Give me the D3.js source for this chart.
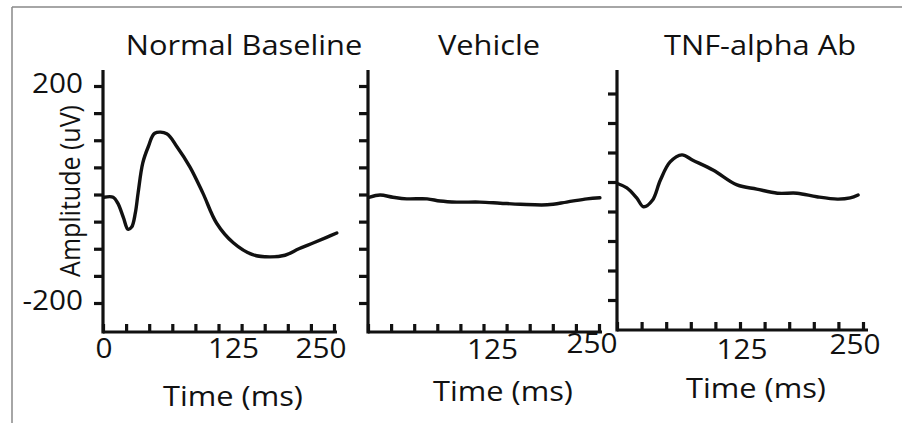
<!DOCTYPE html>
<html>
<head>
<meta charset="utf-8">
<script src="https://d3js.org/d3.v7.min.js"></script>
<style>
  body { margin: 0; background: #fff; }
  svg text { font-family: "Open Sans", "Noto Sans", sans-serif; fill: #111; }
  .axis path, .axis line { stroke: #111; stroke-width: 3.2px; }
  .trace { fill: none; stroke: #111; stroke-width: 3.4px; stroke-linejoin: round; stroke-linecap: round; }
</style>
</head>
<body>
<svg width="902" height="423"></svg>
<script>
// panel titles
var titles = ["Normal Baseline", "Vehicle", "TNF-alpha Ab"];

// traces: time in ms, amplitude in uV
var baseTime = [1, 11, 16, 22, 27, 31, 35, 38, 43, 49, 56, 69, 80, 94, 108, 123, 141, 162, 180, 197, 212, 228, 242, 253];
var baseAmp  = [-5, -5, -16, -42, -64, -60, -34, 3, 58, 88, 113, 112, 88, 51, 3, -53, -89, -111, -115, -112, -100, -89, -79, -71];

var vehTime = [2, 13, 27, 42, 64, 78, 96, 121, 143, 165, 194, 215, 237, 251];
var vehAmp  = [-5, -1, -5, -8, -8, -12, -14, -14, -16, -18, -19, -14, -8, -6];

var tnfTime = [1, 10, 20, 27, 36, 44, 54, 66, 77, 98, 122, 142, 163, 183, 203, 224, 237, 245];
var tnfAmp  = [-3, -10, -27, -42, -31, 3, 34, 46, 37, 20, -5, -12, -19, -19, -25, -29, -27, -22];

var xTicks = [0, 25, 50, 75, 100, 125, 150, 175, 200, 225, 250];
var yTicksFull = [200, 150, 100, 50, 0, -50, -100, -150, -200];
var yTicksShort = [150, 100, 50, 0, -50, -100, -150, -200];
var xLabels = [[0, 125, 250], [125, 250], [125, 250]];
var yLabels = [200, -200];

var svg = d3.select("svg");
var sx = 1.1; // the original figure is stretched sideways

function txt(g, x, y, s, size, anchor, rot) {
    return g.append("text")
        .attr("transform", "translate(" + x + "," + y + ") scale(" + sx + ",1)" + (rot ? " rotate(" + rot + ")" : ""))
        .attr("text-anchor", anchor || "middle")
        .style("font-size", size + "px")
        .text(s);
}

// frame
svg.append("line").attr("x1", 12).attr("y1", 7).attr("x2", 902).attr("y2", 7).attr("stroke", "#888").attr("stroke-width", 1.5);
svg.append("line").attr("x1", 12).attr("y1", 7).attr("x2", 12).attr("y2", 423).attr("stroke", "#888").attr("stroke-width", 1.5);

var panels = [
    { t: baseTime, a: baseAmp, x0: 103, x1: 334, xEnd: 337, axisY: 332, top: 70, yDom: [-200, 200], yRng: [303, 86], yt: yTicksFull,
      titleX: 244, lblDx: [1, 15, -13], lblY: [358, 358, 358], xtX: 233, xtY: 406 },
    { t: vehTime, a: vehAmp, x0: 368, x1: 599, xEnd: 602, axisY: 332, top: 70, yDom: [-200, 200], yRng: [303, 86], yt: yTicksFull,
      titleX: 489, lblDx: [9, -7], lblY: [359, 353], xtX: 503, xtY: 401 },
    { t: tnfTime, a: tnfAmp, x0: 617, x1: 863, xEnd: 868, axisY: 330, top: 70, yDom: [-200, 0], yRng: [300, 182], yt: yTicksShort,
      titleX: 760, lblDx: [2, -8], lblY: [359, 354], xtX: 756, xtY: 398 }
];

panels.forEach(function(p, i) {
    var g = svg.append("g");
    var x = d3.scaleLinear().domain([0, 250]).range([p.x0, p.x1]);
    var y = d3.scaleLinear().domain(p.yDom).range(p.yRng);

    // x axis: ticks point up into the plot
    var xa = g.append("g").attr("class", "axis").attr("transform", "translate(0," + p.axisY + ")")
        .call(d3.axisBottom(x).tickValues(xTicks).tickSizeInner(-8).tickSizeOuter(0).tickFormat(""));
    xa.select(".domain").attr("d", "M" + p.x0 + ",0H" + p.xEnd);

    // y axis: ticks point out to the left
    var ya = g.append("g").attr("class", "axis").attr("transform", "translate(" + p.x0 + ",0)")
        .call(d3.axisLeft(y).tickValues(p.yt).tickSizeInner(9).tickSizeOuter(0).tickFormat(""));
    ya.select(".domain").attr("d", "M0," + p.top + "V" + (p.axisY + 1.6));

    var line = d3.line()
        .x(function(d) { return x(d[0]); })
        .y(function(d) { return y(d[1]); })
        .curve(d3.curveCatmullRom);
    g.append("path").attr("class", "trace").attr("d", line(d3.zip(p.t, p.a)));

    txt(g, p.titleX, 55, titles[i], 28);

    xLabels[i].forEach(function(v, j) {
        txt(g, x(v) + p.lblDx[j], p.lblY[j], String(v), 27);
    });
    txt(g, p.xtX, p.xtY, "Time (ms)", 28);

    if (i === 0) {
        yLabels.forEach(function(v) {
            txt(g, 83, y(v) + 7, String(v), 27, "end");
        });
        txt(g, 80, 191, "Amplitude (uV)", 25, "middle", -90);
    }
});
</script>
</body>
</html>
